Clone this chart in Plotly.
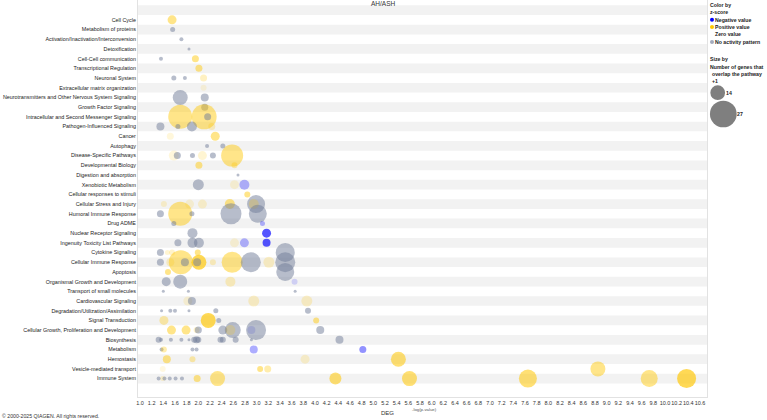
import plotly.graph_objects as go

# ---------------- data ----------------
categories = [
    "Cell Cycle", "Metabolism of proteins", "Activation/Inactivation/Interconversion",
    "Detoxification", "Cell-Cell communication", "Transcriptional Regulation",
    "Neuronal System", "Extracellular matrix organization",
    "Neurotransmitters and Other Nervous System Signaling", "Growth Factor Signaling",
    "Intracellular and Second Messenger Signaling", "Pathogen-Influenced Signaling",
    "Cancer", "Autophagy", "Disease-Specific Pathways", "Developmental Biology",
    "Digestion and absorption", "Xenobiotic Metabolism", "Cellular responses to stimuli",
    "Cellular Stress and Injury", "Humoral Immune Response", "Drug ADME",
    "Nuclear Receptor Signaling", "Ingenuity Toxicity List Pathways", "Cytokine Signaling",
    "Cellular Immune Response", "Apoptosis", "Organismal Growth and Development",
    "Transport of small molecules", "Cardiovascular Signaling",
    "Degradation/Utilization/Assimilation", "Signal Transduction",
    "Cellular Growth, Proliferation and Development", "Biosynthesis", "Metabolism",
    "Hemostasis", "Vesicle-mediated transport", "Immune System",
]

# -log(p-value) of each pathway bubble, grouped by category (same order as categories)
neg_log_p = [
    [1.55],
    [1.56],
    [1.71],
    [1.84],
    [1.36, 1.95],
    [2.01],
    [1.58, 1.77, 2.09],
    [2.09],
    [1.69, 2.11],
    [2.11],
    [1.69, 2.10, 2.16],
    [1.35, 1.65, 1.89, 2.23],
    [1.52, 2.29],
    [2.15, 2.42],
    [1.58, 1.64, 1.90, 2.07, 2.25, 2.58],
    [2.62, 2.01],
    [2.68],
    [2.00, 2.62, 2.79],
    [2.84],
    [1.41, 1.85, 2.07, 2.54, 2.99, 2.95],
    [1.35, 1.69, 1.89, 2.56, 3.02],
    [1.58, 3.10],
    [1.90, 3.17],
    [1.65, 1.90, 2.01, 2.62, 2.79, 3.17],
    [1.35, 1.47, 1.55, 1.99, 3.49],
    [1.35, 1.52, 1.70, 1.77, 2.01, 1.98, 2.25, 2.58, 2.90, 3.21, 3.49],
    [1.48, 3.49],
    [1.45, 1.69, 2.55, 3.65],
    [1.40, 1.83, 3.66],
    [1.82, 1.89, 2.95, 3.86],
    [1.37, 1.52, 1.60, 1.84, 2.30, 3.88],
    [1.41, 2.17, 2.35, 4.02],
    [1.54, 1.79, 1.97, 2.00, 2.42, 2.59, 2.55, 2.91, 2.99, 4.09],
    [1.32, 1.36, 1.53, 1.71, 1.84, 1.93, 1.97, 2.00, 2.38, 2.42, 2.64, 2.91, 4.42],
    [1.37, 1.41, 1.90, 1.97, 2.95, 4.82],
    [1.46, 1.90, 3.83, 5.43],
    [1.39, 3.06, 3.19, 8.85],
    [1.32, 1.39, 1.42, 1.51, 1.61, 1.72, 1.98, 2.33, 4.35, 5.62, 7.65, 9.73, 10.37],
]

# z-score of each bubble (None = no activity pattern)
z_score = [
    [2.3],
    [None],
    [None],
    [None],
    [None, 2.3],
    [2.3],
    [None, None, 1.0],
    [0.3],
    [None, None],
    [None],
    [2.3, 2.3, None],
    [None, None, None, 1.0],
    [0.4, 2.3],
    [None, None],
    [0.4, None, None, 0.6, None, 2.3],
    [1.5, 2.3],
    [None],
    [None, 0.4, -1.3],
    [2.3],
    [0.6, 0.4, 0.6, 2.3, None, 1.0],
    [None, 2.3, None, None, None],
    [None, -1.3],
    [None, -3.5],
    [None, None, None, 0.4, -1.3, -3.5],
    [None, 0.6, 0.8, 2.3, None],
    [None, 0.8, 2.3, None, 3.5, None, 1.0, 2.3, None, 0.8, None],
    [2.3, None],
    [None, None, 1.0, -0.4],
    [None, None, None],
    [0.4, None, 0.8, 0.8],
    [None, None, None, None, None, None],
    [1.5, 3.5, None, 2.3],
    [2.3, 2.3, 0.8, None, None, None, 0.8, -0.6, None, None],
    [None] * 13,
    [None, 1.5, None, None, -1.5, -2.1],
    [2.3, 1.5, 0.6, 2.8],
    [0.3, 2.3, 1.5, 2.3],
    [None, 0.6, None, None, None, None, 2.3, 2.3, 2.8, 2.8, 2.8, 2.3, 3.5],
]

# number of genes overlapping each pathway (+1), drives bubble size
genes = [
    [9],
    [5],
    [4],
    [3],
    [4, 7],
    [7],
    [5, 4, 7],
    [6],
    [15, 8],
    [7],
    [24, 25, 7],
    [8, 5, 10, 7],
    [7, 9],
    [4, 5],
    [10, 7, 5, 9, 6, 22],
    [6, 7],
    [3],
    [11, 9, 10],
    [6],
    [6, 9, 9, 10, 18, 10],
    [7, 24, 5, 21, 18],
    [5, 5],
    [10, 9],
    [7, 10, 10, 9, 9, 8],
    [7, 5, 6, 6, 19],
    [7, 8, 24, 8, 15, 8, 6, 21, 20, 11, 20],
    [6, 18],
    [9, 14, 10, 6],
    [3, 3, 3],
    [9, 8, 11, 11],
    [3, 4, 4, 3, 5, 6],
    [9, 15, 5, 6],
    [9, 9, 6, 7, 9, 16, 10, 8, 20, 8],
    [6, 4, 4, 4, 3, 6, 7, 6, 6, 6, 6, 3, 8],
    [4, 6, 4, 4, 8, 7],
    [8, 6, 9, 15],
    [6, 6, 7, 15],
    [4, 5, 4, 4, 4, 4, 7, 15, 12, 15, 18, 17, 19],
]

x_ticks = [round(1.0 + 0.2 * i, 1) for i in range(49)]
title_text = "AH/ASH"
legend_sizes = [14, 27]

# ---------------- build ----------------
def color_for(z):
    if z is None:
        return "rgba(112,124,152,0.72)"
    t = min(abs(z) / 3.5, 1.0)
    a = 0.1 + 0.85 * t
    if z > 0:
        return f"rgba(255,198,0,{a:.2f})"
    return f"rgba(0,0,255,{a:.2f})"

xs, ys, cols, sizes, texts = [], [], [], [], []
for i, cat in enumerate(categories):
    assert len(neg_log_p[i]) == len(z_score[i]) == len(genes[i]), cat
    for v, z, g in zip(neg_log_p[i], z_score[i], genes[i]):
        xs.append(v)
        ys.append(i)
        cols.append(color_for(z))
        sizes.append(g)
        texts.append(cat)

W, H = 767, 420
L, R, T, B = 138, 60, 0, 23
PW, PH = W - L - R, H - T - B

def px(x):
    return (x - L) / PW

def py(y):
    return 1 - (y - T) / PH

FONT = "Liberation Sans, Arial, Helvetica, sans-serif"

fig = go.Figure()
fig.add_trace(go.Scatter(
    x=xs, y=ys, mode="markers", text=texts,
    marker=dict(size=sizes, sizemode="diameter", color=cols, line=dict(width=0)),
    hovertemplate="%{text}<br>%{x}<extra></extra>",
    showlegend=False,
))

shapes = []
for i in range(-1, len(categories) + 1):
    if i % 2 != 0:
        shapes.append(dict(type="rect", xref="paper", x0=0, x1=1, yref="y",
                           y0=i - 0.5, y1=i + 0.5, fillcolor="#F2F2F2",
                           line=dict(width=0), layer="below"))

annotations = [
    dict(text=title_text, x=px(383), y=py(4), xref="paper", yref="paper",
         showarrow=False, xanchor="center", yanchor="middle",
         font=dict(size=6.5, color="#333333", family=FONT)),
    dict(text="DEG", x=px(387), y=py(413), xref="paper", yref="paper",
         showarrow=False, xanchor="center", yanchor="middle",
         font=dict(size=6, color="#333333", family=FONT)),
    dict(text="-log(p-value)", x=px(410), y=py(409), xref="paper", yref="paper",
         showarrow=False, xanchor="left", yanchor="middle",
         font=dict(size=4.3, color="#555555", family=FONT)),
    dict(text="© 2000-2025 QIAGEN. All rights reserved.", x=px(0), y=py(416),
         xref="paper", yref="paper", showarrow=False, xanchor="left", yanchor="middle",
         font=dict(size=5.2, color="#333333", family=FONT)),
]

leg_font = dict(size=5.2, color="#222222", family=FONT)
leg_items = [
    ("<b>Color by</b>", 709, 4.5),
    ("<b>z-score</b>", 709, 12),
    ("<b>Negative value</b>", 714, 19.7),
    ("<b>Positive value</b>", 714, 27),
    ("<b>Zero value</b>", 714, 34.5),
    ("<b>No activity pattern</b>", 714, 42),
    ("<b>Size by</b>", 709, 59),
    ("<b>Number of genes that</b>", 709, 66.7),
    ("<b>overlap the pathway</b>", 711, 74),
    ("<b>+1</b>", 711, 81),
    (f"<b>{legend_sizes[0]}</b>", 725, 92.7),
    (f"<b>{legend_sizes[1]}</b>", 736, 114),
]
for t, x, y in leg_items:
    annotations.append(dict(text=t, x=px(x), y=py(y), xref="paper", yref="paper",
                            showarrow=False, xanchor="left", yanchor="middle",
                            font=leg_font, borderpad=0))

def circle(cx, cy, d, color):
    r = d / 2
    return dict(type="circle", xref="paper", yref="paper",
                x0=px(cx - r), x1=px(cx + r), y0=py(cy + r), y1=py(cy - r),
                fillcolor=color, line=dict(width=0), layer="above")

shapes += [
    circle(712, 19.7, 4, "#0000FF"),
    circle(712, 27, 4, "#FFC800"),
    circle(712, 42, 4, "#A3ABBD"),
    circle(717.7, 92.7, legend_sizes[0] * 1.05, "#7F7F7F"),
    circle(723.3, 114, legend_sizes[1] * 0.99, "#7F7F7F"),
]

fig.update_layout(
    width=W, height=H,
    margin=dict(l=L, r=R, t=T, b=B, pad=0),
    paper_bgcolor="white", plot_bgcolor="white",
    font=dict(family=FONT, color="#333333"),
    shapes=shapes, annotations=annotations,
    xaxis=dict(range=[0.966, 10.72], tickvals=x_ticks,
               ticktext=[f"{v:.1f}" for v in x_ticks], tickangle=0,
               showgrid=False, zeroline=False, ticks="",
               showline=True, mirror=True, linecolor="#E2E2E2", linewidth=1,
               tickfont=dict(size=5.5, color="#333333", family=FONT)),
    yaxis=dict(range=[38.9, -2.05], tickvals=list(range(len(categories))),
               ticktext=categories, showgrid=False, zeroline=False, ticks="",
               showline=True, mirror=True, linecolor="#E2E2E2", linewidth=1,
               tickfont=dict(size=5.4, color="#222222", family=FONT)),
)

fig.write_html("out.html")
